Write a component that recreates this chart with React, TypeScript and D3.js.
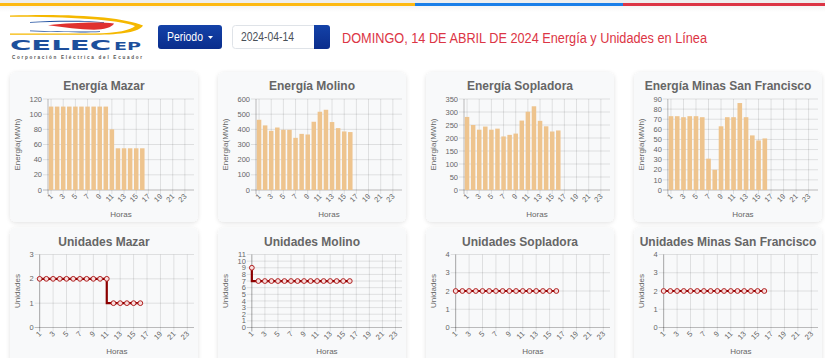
import React from 'react';
import * as d3 from 'd3';

const hours = [1, 2, 3, 4, 5, 6, 7, 8, 9, 10, 11, 12, 13, 14, 15, 16, 17, 18, 19, 20, 21, 22, 23, 24];
const shownHours = [1, 3, 5, 7, 9, 11, 13, 15, 17, 19, 21, 23];

const plantNames = ['Mazar', 'Molino', 'Sopladora', 'Minas San Francisco'];

const energiaMazar = [110, 110, 110, 110, 110, 110, 110, 110, 110, 110, 80, 55, 55, 55, 55, 55];
const energiaMolino = [463, 426, 390, 412, 397, 397, 344, 370, 366, 450, 516, 529, 448, 408, 386, 382];
const energiaSopladora = [281, 250, 232, 244, 232, 236, 206, 212, 217, 267, 301, 322, 266, 245, 225, 229];
const energiaMinas = [73, 73, 72, 73, 73, 72, 31, 20, 63, 72, 72, 86, 72, 54, 49, 51];

const unidadesMazar = [2, 2, 2, 2, 2, 2, 2, 2, 2, 2, 2, 1, 1, 1, 1, 1];
const unidadesMolino = [9, 7, 7, 7, 7, 7, 7, 7, 7, 7, 7, 7, 7, 7, 7, 7];
const unidadesSopladora = [2, 2, 2, 2, 2, 2, 2, 2, 2, 2, 2, 2, 2, 2, 2, 2];
const unidadesMinas = [2, 2, 2, 2, 2, 2, 2, 2, 2, 2, 2, 2, 2, 2, 2, 2];

const energiaMax = [120, 600, 350, 90];
const energiaStep = [20, 100, 50, 10];
const unidadesMax = [3, 11, 4, 4];

const energySeries = [energiaMazar, energiaMolino, energiaSopladora, energiaMinas];
const unitSeries = [unidadesMazar, unidadesMolino, unidadesSopladora, unidadesMinas];

const headerTitle = 'DOMINGO, 14 DE ABRIL DE 2024 Energía y Unidades en Línea';
const dateText = '2024-04-14';

const FONT = '"Liberation Sans", Arial, Helvetica, sans-serif';
const TXT = '#666';
const GRID = 'rgba(0,0,0,0.1)';
const AXIS = 'rgba(0,0,0,0.25)';

const CARD_W = 188;
const cardX = (i: number) => 10 + i * 208;

function Card({ x, y, h }: { x: number; y: number; h: number }) {
  return <rect x={x} y={y} width={CARD_W} height={h} rx={6} fill="#f8f9fa" filter="url(#cardShadow)" />;
}

function YAxis({ left, right, y, ticks }: any) {
  return (
    <g>
      {ticks.map((t: number) => (
        <g key={t}>
          <line x1={left - 5} x2={right} y1={y(t)} y2={y(t)} stroke={t === 0 ? AXIS : GRID} strokeWidth={1} />
          <text x={left - 6} y={y(t)} dy="0.35em" textAnchor="end" fontSize={7.5} fill={TXT} fontFamily={FONT}>
            {t}
          </text>
        </g>
      ))}
    </g>
  );
}

function XLabels({ xpos, bottom }: any) {
  return (
    <g>
      {shownHours.map((hh) => (
        <text
          key={hh}
          transform={`translate(${xpos(hh) + 0.5},${bottom + 5}) rotate(-45)`}
          dy="0.35em"
          textAnchor="end"
          fontSize={7.5}
          fill={TXT}
          fontFamily={FONT}
        >
          {hh}
        </text>
      ))}
    </g>
  );
}

function EnergyChart({ i }: { i: number }) {
  const x0 = cardX(i);
  const y0 = 72;
  const yMax = energiaMax[i];
  const step = energiaStep[i];
  const ticks = d3.range(0, yMax + step / 2, step);
  const left = x0 + 19.5 + String(yMax).length * 4.17 + 6;
  const right = x0 + CARD_W - 4;
  const top = y0 + 27;
  const bottom = y0 + 118;
  const xb = d3.scaleBand<number>().domain(hours).range([left, right]).padding(0);
  const y = d3.scaleLinear().domain([0, yMax]).range([bottom, top]);
  const bw = xb.bandwidth() * 0.74;
  const center = (hh: number) => (xb(hh) as number) + xb.bandwidth() / 2;
  const vals = energySeries[i];
  return (
    <g>
      <Card x={x0} y={y0} h={150} />
      <text x={x0 + CARD_W / 2} y={y0 + 14} dy="0.35em" textAnchor="middle" fontSize={12} fontWeight="bold" fill={TXT} fontFamily={FONT}>
        {'Energía ' + plantNames[i]}
      </text>
      {shownHours.map((hh) => (
        <line key={hh} x1={center(hh)} x2={center(hh)} y1={top} y2={bottom + 4} stroke={GRID} />
      ))}
      <YAxis left={left} right={right} y={y} ticks={ticks} />
      <line x1={left} x2={left} y1={top} y2={bottom + 4} stroke={AXIS} />
      {vals.map((v, k) => (
        <rect key={k} x={center(hours[k]) - bw / 2} y={y(v)} width={bw} height={bottom - y(v)} fill="#eec48e" />
      ))}
      <XLabels xpos={center} bottom={bottom} />
      <text transform={`translate(${x0 + 7},${(top + bottom) / 2}) rotate(-90)`} dy="0.35em" textAnchor="middle" fontSize={8} fill={TXT} fontFamily={FONT}>
        Energía(MWh)
      </text>
      <text x={(left + right) / 2} y={bottom + 24} dy="0.35em" textAnchor="middle" fontSize={8} fill={TXT} fontFamily={FONT}>
        Horas
      </text>
    </g>
  );
}

function UnitsChart({ i }: { i: number }) {
  const x0 = cardX(i);
  const y0 = 227.5;
  const yMax = unidadesMax[i];
  const ticks = d3.range(0, yMax + 1);
  const left = x0 + 19.5 + String(yMax).length * 4.17 + 6;
  const right = x0 + CARD_W - 4;
  const top = y0 + 27;
  const bottom = y0 + 100;
  const xp = d3.scalePoint<number>().domain(hours).range([left, right]);
  const y = d3.scaleLinear().domain([0, yMax]).range([bottom, top]);
  const vals = unitSeries[i];
  const pts = vals.map((v, k) => [xp(hours[k]) as number, y(v)] as [number, number]);
  const path = d3.line().curve(d3.curveStepBefore)(pts) || '';
  return (
    <g>
      <Card x={x0} y={y0} h={150} />
      <text x={x0 + CARD_W / 2} y={y0 + 14} dy="0.35em" textAnchor="middle" fontSize={12} fontWeight="bold" fill={TXT} fontFamily={FONT}>
        {'Unidades ' + plantNames[i]}
      </text>
      {shownHours.map((hh) => (
        <line key={hh} x1={xp(hh)} x2={xp(hh)} y1={top} y2={bottom + 4} stroke={GRID} />
      ))}
      <YAxis left={left} right={right} y={y} ticks={ticks} />
      <line x1={left} x2={left} y1={top} y2={bottom + 4} stroke={AXIS} />
      <path d={path} fill="none" stroke="#8b0000" strokeWidth={2.2} />
      {pts.map((p, k) => (
        <circle key={k} cx={p[0]} cy={p[1]} r={2.4} fill="#f7dede" stroke="#b02020" strokeWidth={1} />
      ))}
      <XLabels xpos={(hh: number) => xp(hh) as number} bottom={bottom} />
      <text transform={`translate(${x0 + 7},${(top + bottom) / 2}) rotate(-90)`} dy="0.35em" textAnchor="middle" fontSize={8} fill={TXT} fontFamily={FONT}>
        Unidades
      </text>
      <text x={(left + right) / 2} y={bottom + 24} dy="0.35em" textAnchor="middle" fontSize={8} fill={TXT} fontFamily={FONT}>
        Horas
      </text>
    </g>
  );
}

function Logo() {
  return (
    <g>
      <path d="M10,15.5 C70,13.5 122,16.5 143,25.5 C139,32 122,34.5 95,34.8 L10,34.8 L10,33.6 L95,33.6 C117,33.2 131,30 135,26 C118,19.5 70,16.8 10,16.8 Z" fill="#f5b800" />
      <path d="M30,22 C60,20 90,20.5 104,22.3 L104,23 C90,21.5 60,21.2 30,22.8 Z" fill="#1f4fa0" />
      <path d="M48,25.2 C74,22.5 100,21.5 114,23.6 C112,27.5 104,29.8 94,29.8 C80,29.3 64,27.3 48,25.2 Z" fill="#e0312f" />
      <path d="M30,30.5 C60,31.5 85,32 100,31.2 L100,32 C85,32.8 60,32.4 30,31.3 Z" fill="#1f4fa0" />
      <text x={10} y={49.5} fontSize={14.5} fontWeight="bold" fill="#1d4f9c" fontFamily='"DejaVu Sans", sans-serif' textLength={101} lengthAdjust="spacingAndGlyphs">
        CELEC
      </text>
      <text x={114} y={49.5} fontSize={10} fontWeight="bold" fill="#1d4f9c" fontFamily='"DejaVu Sans", sans-serif' textLength={27} lengthAdjust="spacingAndGlyphs">
        EP
      </text>
      <text x={12} y={59} fontSize={4.6} fontWeight="bold" fill="#555" fontFamily={FONT} textLength={130} lengthAdjust="spacing">
        Corporación Eléctrica del Ecuador
      </text>
    </g>
  );
}

export default function App() {
  return (
    <div style={{ position: 'absolute', left: 0, top: 0, width: 825, height: 358, overflow: 'hidden', background: '#fff' }}>
      <svg width={825} height={358} style={{ display: 'block' }}>
        <defs>
          <filter id="cardShadow" x="-10%" y="-10%" width="120%" height="120%">
            <feDropShadow dx={0} dy={1} stdDeviation={2} floodColor="#000" floodOpacity={0.12} />
          </filter>
          <linearGradient id="btnGrad" x1="0" y1="0" x2="0" y2="1">
            <stop offset="0" stopColor="#1442a8" />
            <stop offset="1" stopColor="#0a2d8c" />
          </linearGradient>
          <linearGradient id="hdrShadow" x1="0" y1="0" x2="0" y2="1">
            <stop offset="0" stopColor="#000" stopOpacity={0.04} />
            <stop offset="1" stopColor="#000" stopOpacity={0} />
          </linearGradient>
        </defs>
        <rect x={0} y={0} width={825} height={358} fill="#fff" />
        <rect x={0} y={0} width={825} height={3} fill="#eeeeee" />
        <rect x={0} y={3} width={415} height={3} fill="#fdb913" />
        <rect x={415} y={3} width={208} height={3} fill="#1a7fe8" />
        <rect x={623} y={3} width={202} height={3} fill="#dc3545" />
        <rect x={0} y={6} width={825} height={6} fill="url(#hdrShadow)" />
        <Logo />
        <rect x={158} y={25} width={64} height={24} rx={3} fill="url(#btnGrad)" />
        <text x={167} y={41} fontSize={12} fill="#fff" fontFamily={FONT} textLength={36} lengthAdjust="spacingAndGlyphs">
          Periodo
        </text>
        <path d="M208,36 L213,36 L210.5,39 Z" fill="#fff" />
        <rect x={232.5} y={25.5} width={90} height={23} rx={3} fill="#fff" stroke="#dfe3e8" />
        <text x={241} y={41} fontSize={12} fill="#495057" fontFamily={FONT} textLength={53} lengthAdjust="spacingAndGlyphs">
          {dateText}
        </text>
        <path d="M314,25 L327,25 Q330,25 330,28 L330,46 Q330,49 327,49 L314,49 Z" fill="url(#btnGrad)" />
        <text x={342} y={43.3} fontSize={14} fill="#dc3545" fontFamily={FONT} textLength={365} lengthAdjust="spacingAndGlyphs">
          {headerTitle}
        </text>
        {plantNames.map((_, i) => (
          <EnergyChart key={'e' + i} i={i} />
        ))}
        {plantNames.map((_, i) => (
          <UnitsChart key={'u' + i} i={i} />
        ))}
      </svg>
    </div>
  );
}
